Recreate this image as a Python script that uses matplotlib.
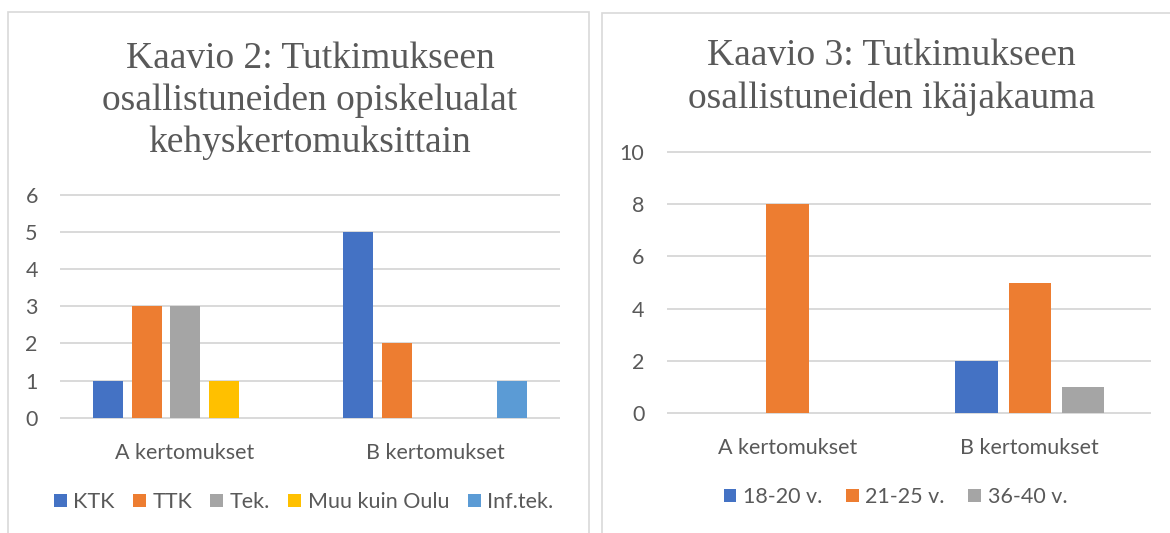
import matplotlib.pyplot as plt
from matplotlib.patches import Patch, Rectangle
import numpy as np

# data
categories = ['A kertomukset', 'B kertomukset']
study_series = ['KTK', 'TTK', 'Tek.', 'Muu kuin Oulu', 'Inf.tek.']
study_values = [[1, 5], [3, 2], [3, 0], [1, 0], [0, 1]]
age_series = ['18-20 v.', '21-25 v.', '36-40 v.']
age_values = [[0, 2], [8, 5], [0, 1]]
study_colors = ['#4472C4', '#ED7D31', '#A5A5A5', '#FFC000', '#5B9BD5']
age_colors = ['#4472C4', '#ED7D31', '#A5A5A5']

W, H = 1170, 533
TXT = '#595959'
GRID = '#d9d9d9'
SANS = 'Lato'
SERIF = 'Liberation Serif'
FS = 15.5

fig = plt.figure(figsize=(W / 100, H / 100), dpi=100)

def px_axes(x0, x1, ytop, ybot):
    return fig.add_axes([x0 / W, 1 - ybot / H, (x1 - x0) / W, (ybot - ytop) / H])

# chart borders
for (x0, y0, x1, y1) in [(8, 12, 589, 540), (602, 13, 1185, 540)]:
    fig.add_artist(Rectangle((x0 / W, 1 - y1 / H), (x1 - x0) / W, (y1 - y0) / H,
                             transform=fig.transFigure, fill=False,
                             edgecolor=GRID, linewidth=1.2))

def draw(ax, series, values, colors, ymax, ystep, width, step):
    x = np.arange(len(categories))
    n = len(series)
    for j, (name, vals, c) in enumerate(zip(series, values, colors)):
        ax.bar(x + (j - (n - 1) / 2) * step, vals, width=width, color=c,
               label=name, zorder=3)
    ticks = np.arange(0, ymax + ystep, ystep)
    ax.set_xlim(-0.5, len(categories) - 0.5)
    ax.set_ylim(0, ymax)
    ax.hlines(ticks, -0.5, len(categories) - 0.5, color=GRID, linewidth=1.4,
              clip_on=False, zorder=1)
    ax.set_yticks(ticks)
    ax.set_xticks(x)
    ax.set_xticklabels(categories)
    for s in ax.spines.values():
        s.set_visible(False)
    ax.tick_params(length=0, labelcolor=TXT, labelsize=FS)
    ax.tick_params(axis='x', pad=18)
    ax.tick_params(axis='y', pad=16)
    for lab in ax.get_xticklabels() + ax.get_yticklabels():
        lab.set_family(SANS)

ax1 = px_axes(60, 560, 194.6, 417.7)
draw(ax1, study_series, study_values, study_colors, 6, 1, 0.12, 0.154)
ax2 = px_axes(666.5, 1151, 152.4, 412.6)
draw(ax2, age_series, age_values, age_colors, 10, 2, 0.176, 0.22)

fig.text(310 / W, 1 - 100.5 / H,
         'Kaavio 2: Tutkimukseen\nosallistuneiden opiskelualat\nkehyskertomuksittain',
         ha='center', va='center', family=SERIF, fontsize=27, color=TXT,
         linespacing=1.27)
fig.text(891.6 / W, 1 - 77.3 / H,
         'Kaavio 3: Tutkimukseen\nosallistuneiden ikäjakauma',
         ha='center', va='center', family=SERIF, fontsize=27, color=TXT,
         linespacing=1.27)

def legend(series, colors, cx, cy, colspace):
    handles = [Patch(facecolor=c, edgecolor='none') for c in colors]
    leg = fig.legend(handles, series, loc='center', ncol=len(series),
                     bbox_to_anchor=(cx / W, 1 - cy / H), frameon=False,
                     handlelength=0.6, handleheight=0.6, handletextpad=0.3,
                     columnspacing=colspace, prop={'family': SANS, 'size': FS})
    for t in leg.get_texts():
        t.set_color(TXT)

legend(study_series, study_colors, 303.5, 502, 0.85)
legend(age_series, age_colors, 895.5, 497, 1.1)

fig.savefig('out.png', dpi=100)
